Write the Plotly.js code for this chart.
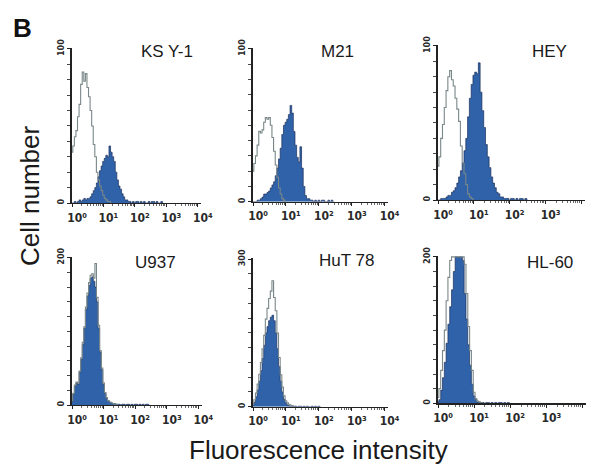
<!DOCTYPE html>
<html>
<head>
<meta charset="utf-8">
<script src="https://cdn.plot.ly/plotly-3.0.1.min.js"></script>
<style>html,body{margin:0;padding:0;background:#fff;}#chart{width:589px;height:464px;}</style>
</head>
<body>
<div id="chart"></div>
<script>
// bin positions (log10 of fluorescence intensity)
const bins = [0,0.05,0.1,0.15,0.2,0.25,0.3,0.35,0.4,0.45,0.5,0.55,0.6,0.65,0.7,0.75,0.8,0.85,0.9,0.95,
  1,1.05,1.1,1.15,1.2,1.25,1.3,1.35,1.4,1.45,1.5,1.55,1.6,1.65,1.7,1.75,1.8,1.85,1.9,1.95,
  2,2.05,2.1,2.15,2.2,2.25,2.3,2.35,2.4,2.45,2.5,2.55,2.6,2.65,2.7,2.75,2.8,2.85,2.9,2.95,3];

const cellLines = ["KS Y-1", "M21", "HEY", "U937", "HuT 78", "HL-60"];
const yMax = [100, 100, 100, 200, 300, 200];
const xTickExps = [0, 1, 2, 3, 4];
const xTickLabels = ["10⁰", "10¹", "10²", "10³", "10⁴"];

// control (open outline) histograms
const ksy1Ctrl = [33,37,43,47,56,64,77,85,79,84,75,69,60,50,38,30,20,15,11,8,5,3,2,1,1,0];
const m21Ctrl  = [20,25,30,37,46,45,47,52,55,54,55,50,42,33,24,16,9,5,2,1,0];
const heyCtrl  = [22,28,40,49,60,71,80,84,78,74,66,59,51,35,24,17,10,4,2,1,0];
const u937Ctrl = [6,16,27,31,30,46,64,85,106,133,152,166,176,178,172,192,146,108,74,50,30,17,10,6,4,3,2,1,1,0];
const hutCtrl  = [5,14,28,46,66,90,118,145,178,200,220,235,256,222,195,150,100,65,40,22,12,8,5,3,2,1,0];
const hl60Ctrl = [8,20,45,72,100,140,172,195,200,200,200,200,200,200,200,190,150,105,72,45,15,6,3,2,1,0];

// stained (filled) histograms
const ksy1Stain = [0,0,1,0,1,2,1,2,3,2,3,3,4,6,8,10,13,17,21,24,27,29,31,30,37,33,30,27,20,15,11,9,6,4,2,2,1,1,0,1,0,1,1,0,1,0,1,0,0,1,0,1,1,0,1,0,0,1,0];
const m21Stain  = [0,0,0,1,1,2,3,5,5,6,7,9,11,13,17,22,28,35,44,50,52,54,57,63,58,46,37,29,26,36,22,10,4,2,2,1,1,0,1,0,1,0,1,1,0,0,1,0,1,0];
const heyStain  = [0,0,1,1,1,2,3,3,5,6,8,11,15,19,24,32,40,54,66,75,81,83,82,89,70,58,47,36,28,21,15,11,8,5,4,2,2,1,1,1,0,1,1,0,1,0,1,1,0,1,0];
const u937Stain = [5,15,25,30,28,45,62,82,104,130,148,162,172,174,168,160,140,104,72,48,28,16,9,6,4,3,2,2,1,1,1,0,1,1,0,1,1,0,1,0,1,1,0,1,0,1,0,1,1,0];
const hutStain  = [3,9,20,34,52,73,98,125,150,163,175,182,186,175,150,118,82,52,30,15,8,4,2,1,1,0,1,0,1,1,0,1,0,1,0,0,1,0,1,0,1,0];
const hl60Stain = [2,5,18,35,56,82,108,132,155,180,200,200,200,200,195,150,115,80,52,26,10,6,2,1,1,1,0,1,1,0,1,0,1,0,1,1,0,1,0,1,0];

const ctrlSeries  = [ksy1Ctrl, m21Ctrl, heyCtrl, u937Ctrl, hutCtrl, hl60Ctrl];
const stainSeries = [ksy1Stain, m21Stain, heyStain, u937Stain, hutStain, hl60Stain];

// panel geometry in pixels: [left, right, top, bottom]
const W = 589, H = 464;
const panelPx = [
  [72, 201, 48, 203], [253, 388, 48, 201.7], [438, 585, 45, 200],
  [72, 201.5, 256.7, 405], [253, 388, 258.3, 406.7], [438, 586, 256, 403.3]
];
const titlePx = [[167,52],[337,52],[549,52],[155,262],[346,260],[550,262]];

const tickFont = {family: "DejaVu Sans Condensed, Liberation Sans Narrow, DejaVu Sans, sans-serif", size: 12, color: "#2a2a2a", weight: "bold"};
const yTickFont = {family: "DejaVu Sans Condensed, Liberation Sans Narrow, DejaVu Sans, sans-serif", size: 9, color: "#2a2a2a", weight: "bold"};

const traces = [];
const layout = {
  width: W, height: H, autosize: false,
  margin: {l: 0, r: 0, t: 0, b: 0},
  paper_bgcolor: "#fff", plot_bgcolor: "rgba(0,0,0,0)",
  showlegend: false,
  annotations: []
};

const majorVals = xTickExps.map(e => Math.pow(10, e));
const minorVals = [];
xTickExps.slice(0, -1).forEach(e => { for (let m = 2; m <= 9; m++) minorVals.push(m * Math.pow(10, e)); });

cellLines.forEach((name, i) => {
  const k = i + 1;
  const xa = "x" + (k === 1 ? "" : k), ya = "y" + (k === 1 ? "" : k);
  const xs = arr => arr.map((_, j) => Math.pow(10, bins[j]));
  traces.push({
    x: xs(stainSeries[i]), y: stainSeries[i], type: "scatter", mode: "lines",
    line: {shape: "hvh", color: "#1b2f5c", width: 0.7},
    fill: "tozeroy", fillcolor: "#2f62a8",
    xaxis: xa, yaxis: ya, hoverinfo: "skip"
  });
  traces.push({
    x: xs(ctrlSeries[i]), y: ctrlSeries[i], type: "scatter", mode: "lines",
    line: {shape: "hvh", color: "#7a8788", width: 1.1},
    xaxis: xa, yaxis: ya, hoverinfo: "skip"
  });
  const p = panelPx[i];
  const yMinor = [];
  for (let t = 1; t <= 9; t++) yMinor.push(yMax[i] * t / 10);
  layout["xaxis" + (k === 1 ? "" : k)] = {
    type: "log", range: [0, 4.1], domain: [p[0] / W, p[1] / W], anchor: ya,
    showline: true, linecolor: "#222", linewidth: 1.3, mirror: false,
    ticks: "outside", ticklen: 3, tickwidth: 1, tickcolor: "#222",
    tickmode: "array", tickvals: majorVals, ticktext: xTickLabels,
    tickfont: tickFont, ticklabelshift: 5, ticklabelstandoff: 0,
    minor: {ticks: "outside", ticklen: 2, tickwidth: 0.8, tickcolor: "#444", tickmode: "array", tickvals: minorVals, showgrid: false},
    showgrid: false, zeroline: false, fixedrange: true
  };
  layout["yaxis" + (k === 1 ? "" : k)] = {
    range: [0, yMax[i] * 1.006], domain: [1 - p[3] / H, 1 - p[2] / H], anchor: xa,
    showline: true, linecolor: "#222", linewidth: 1.6,
    ticks: "outside", ticklen: 3, tickwidth: 1, tickcolor: "#222",
    tickmode: "array", tickvals: [0, yMax[i]], ticktext: ["0", String(yMax[i])], tickangle: -90,
    tickfont: yTickFont, ticklabelstandoff: 0,
    minor: {ticks: "outside", ticklen: 3, tickwidth: 0.9, tickcolor: "#333", tickmode: "array", tickvals: yMinor, showgrid: false},
    showgrid: false, zeroline: false, fixedrange: true
  };
  layout.annotations.push({
    text: name, xref: "paper", yref: "paper",
    x: titlePx[i][0] / W, y: 1 - titlePx[i][1] / H, xanchor: "center", yanchor: "middle",
    showarrow: false, font: {family: "Arial, Liberation Sans, sans-serif", size: 17, color: "#1a1a1a"}
  });
});

layout.annotations.push({
  text: "<b>B</b>", xref: "paper", yref: "paper", x: 22.5 / W, y: 1 - 27.5 / H,
  xanchor: "center", yanchor: "middle", showarrow: false,
  font: {family: "Arial, Liberation Sans, sans-serif", size: 26, color: "#111"}
});
layout.annotations.push({
  text: "Cell number", xref: "paper", yref: "paper", x: 30 / W, y: 1 - 196 / H,
  xanchor: "center", yanchor: "middle", textangle: -90, showarrow: false,
  font: {family: "Arial, Liberation Sans, sans-serif", size: 26, color: "#1a1a1a"}
});
layout.annotations.push({
  text: "Fluorescence intensity", xref: "paper", yref: "paper", x: 318 / W, y: 1 - 450 / H,
  xanchor: "center", yanchor: "middle", showarrow: false,
  font: {family: "Arial, Liberation Sans, sans-serif", size: 26, color: "#1a1a1a"}
});

Plotly.newPlot("chart", traces, layout, {staticPlot: true, displayModeBar: false});
</script>
</body>
</html>
